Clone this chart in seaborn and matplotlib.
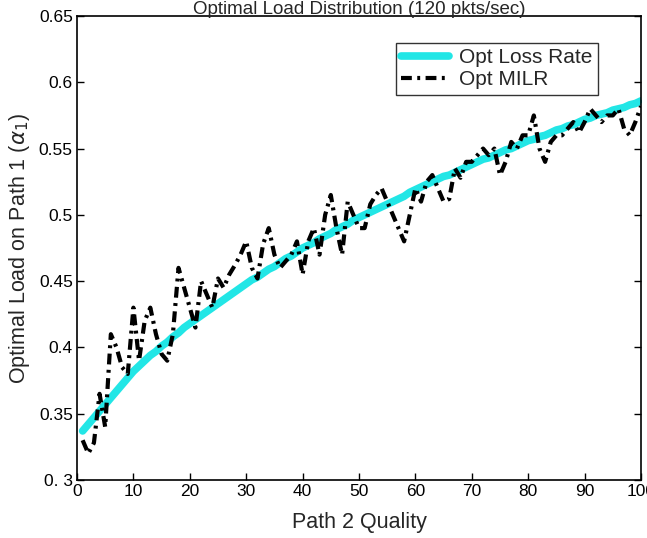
import numpy as np
import pandas as pd
import matplotlib
matplotlib.use("Agg")
import matplotlib.pyplot as plt
import seaborn as sns

quality = list(range(1, 101))

opt_loss_rate = [
    0.337, 0.342, 0.347, 0.352, 0.357, 0.362, 0.367, 0.372, 0.377, 0.382,
    0.386, 0.390, 0.394, 0.397, 0.401, 0.404, 0.408, 0.411, 0.415, 0.418,
    0.421, 0.424, 0.427, 0.430, 0.433, 0.436, 0.439, 0.442, 0.445, 0.448,
    0.451, 0.453, 0.456, 0.459, 0.461, 0.464, 0.467, 0.469, 0.472, 0.475,
    0.477, 0.479, 0.482, 0.484, 0.486, 0.489, 0.491, 0.493, 0.496, 0.498,
    0.500, 0.502, 0.504, 0.506, 0.508, 0.510, 0.512, 0.514, 0.517, 0.519,
    0.521, 0.523, 0.525, 0.527, 0.529, 0.530, 0.532, 0.534, 0.536, 0.538,
    0.540, 0.542, 0.543, 0.545, 0.547, 0.549, 0.550, 0.552, 0.554, 0.556,
    0.557, 0.559, 0.560, 0.562, 0.564, 0.565, 0.567, 0.568, 0.570, 0.572,
    0.573, 0.575, 0.576, 0.577, 0.579, 0.580, 0.581, 0.583, 0.584, 0.586,
]

opt_milr = [
    0.330, 0.320, 0.328, 0.365, 0.340, 0.410, 0.400, 0.385, 0.380, 0.430,
    0.390, 0.420, 0.430, 0.410, 0.395, 0.390, 0.410, 0.460, 0.445, 0.430,
    0.415, 0.450, 0.440, 0.430, 0.452, 0.445, 0.455, 0.462, 0.470, 0.480,
    0.460, 0.452, 0.478, 0.490, 0.470, 0.460, 0.465, 0.470, 0.480, 0.455,
    0.480, 0.490, 0.470, 0.500, 0.515, 0.490, 0.470, 0.510, 0.500, 0.490,
    0.490, 0.508, 0.515, 0.520, 0.510, 0.500, 0.490, 0.480, 0.500, 0.520,
    0.510, 0.525, 0.530, 0.520, 0.510, 0.512, 0.535, 0.528, 0.540, 0.540,
    0.545, 0.550, 0.545, 0.550, 0.530, 0.540, 0.555, 0.550, 0.560, 0.560,
    0.575, 0.550, 0.540, 0.555, 0.560, 0.560, 0.565, 0.570, 0.562, 0.570,
    0.580, 0.575, 0.570, 0.575, 0.575, 0.580, 0.565, 0.560, 0.570, 0.582,
]

x_ticks = [0, 10, 20, 30, 40, 50, 60, 70, 80, 90, 100]
y_ticks = [0.3, 0.35, 0.4, 0.45, 0.5, 0.55, 0.6, 0.65]
y_tick_labels = ["0. 3", "0.35", "0.4", "0.45", "0.5", "0.55", "0.6", "0.65"]

sns.set_theme(style="white")
plt.rcParams['font.family'] = ['Liberation Sans', 'DejaVu Sans']
plt.rcParams['mathtext.fontset'] = 'dejavusans'

fig = plt.figure(figsize=(6.47, 5.38), dpi=100)
ax = fig.add_axes([77/647, 1 - 480/538, (641 - 77)/647, (480 - 16)/538])

df = pd.DataFrame({"q": quality, "loss": opt_loss_rate, "milr": opt_milr})

sns.lineplot(data=df, x="q", y="loss", ax=ax, color="#22e6e6", linewidth=5.5,
             marker=".", markersize=5, markeredgewidth=0, label="Opt Loss Rate")
sns.lineplot(data=df, x="q", y="milr", ax=ax, color="black", linewidth=3.0,
             dashes=(2.6, 1.3, 0.7, 1.3), label="Opt MILR")

ax.set_xlim(0, 100)
ax.set_ylim(0.3, 0.65)
ax.set_xticks(x_ticks)
ax.set_xticklabels([str(t) for t in x_ticks])
ax.set_yticks(y_ticks)
ax.set_yticklabels(y_tick_labels)
ax.tick_params(direction="in", length=5, width=1, labelsize=12.5, colors="black",
               top=False, right=True, left=True, bottom=True, pad=3)
for s in ax.spines.values():
    s.set_color("black")
    s.set_linewidth(1.2)

ax.set_xlabel("Path 2 Quality", fontsize=15.5, labelpad=9)
ax.set_ylabel(r"Optimal Load on Path 1 ($\alpha_1$)", fontsize=15.5, labelpad=5)
fig.text((77 + 641) / 2 / 647, 1 - 10/538, "Optimal Load Distribution (120 pkts/sec)",
         ha="center", va="center", fontsize=13.5)

leg = ax.legend(loc="upper right", bbox_to_anchor=((598 - 77) / 564, (480 - 43) / 464),
                fontsize=15, frameon=True, fancybox=False, handlelength=2.3,
                borderpad=0.25, labelspacing=0.15, handletextpad=0.5,
                borderaxespad=0)
leg.get_frame().set_edgecolor("black")
leg.get_frame().set_linewidth(1.0)

fig.savefig("out.png", dpi=100)
